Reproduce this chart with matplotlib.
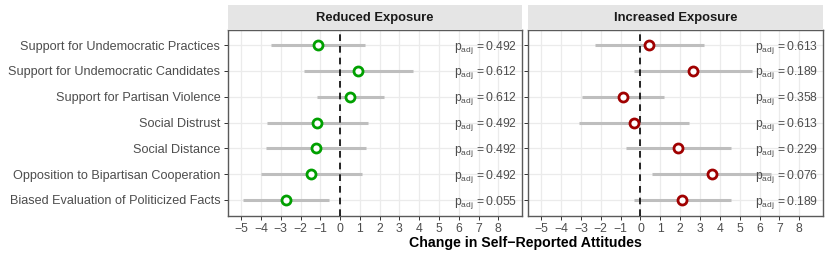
import matplotlib
matplotlib.use("Agg")
import matplotlib.pyplot as plt

plt.rcParams['font.family'] = ['Liberation Sans', 'DejaVu Sans']
plt.rcParams['mathtext.fontset'] = 'custom'
plt.rcParams['mathtext.rm'] = 'Liberation Sans'
plt.rcParams['mathtext.it'] = 'Liberation Sans'

outcomes = ["Support for Undemocratic Practices",
            "Support for Undemocratic Candidates",
            "Support for Partisan Violence",
            "Social Distrust",
            "Social Distance",
            "Opposition to Bipartisan Cooperation",
            "Biased Evaluation of Politicized Facts"]

reduced_est = [-1.11, 0.93, 0.52, -1.15, -1.21, -1.46, -2.76]
reduced_lo = [-3.48, -1.82, -1.15, -3.69, -3.74, -4.01, -4.93]
reduced_hi = [1.26, 3.67, 2.22, 1.40, 1.33, 1.09, -0.54]
reduced_p = ["0.492", "0.612", "0.612", "0.492", "0.492", "0.492", "0.055"]

increased_est = [0.44, 2.65, -0.89, -0.34, 1.91, 3.58, 2.09]
increased_lo = [-2.31, -0.34, -2.97, -3.09, -0.71, 0.59, -0.34]
increased_hi = [3.22, 5.60, 1.20, 2.46, 4.54, 6.60, 4.54]
increased_p = ["0.613", "0.189", "0.358", "0.613", "0.229", "0.076", "0.189"]

xticks = list(range(-5, 9))

panels = [
    ("Reduced Exposure", reduced_est, reduced_lo, reduced_hi, reduced_p, "#00A000"),
    ("Increased Exposure", increased_est, increased_lo, increased_hi, increased_p, "#A00000"),
]

fig = plt.figure(figsize=(8.3, 2.58), dpi=100)
W, H = 830, 258
boxes = [(228, 522), (528, 823)]
top_px, bot_px = 29.5, 215.5
strip_top = 5

ypos = list(range(1, len(outcomes) + 1))
tick_col = "#4D4D4D"
border = "#5A5A5A"

for i, (title, est, lo, hi, pv, col) in enumerate(panels):
    x0, x1 = boxes[i]
    ax = fig.add_axes([x0 / W, 1 - bot_px / H, (x1 - x0) / W, (bot_px - top_px) / H])
    ax.set_xlim(-5.67, 9.2)
    ax.set_ylim(len(outcomes) + 0.6, 0.4)
    ax.set_xticks(xticks)
    ax.set_xticklabels([str(t).replace("-", "\u2212") for t in xticks])
    ax.set_yticks(ypos)
    if i == 0:
        ax.set_yticklabels(outcomes)
    else:
        ax.set_yticklabels([])
    ax.grid(True, color="#EBEBEB", linewidth=0.9)
    ax.set_axisbelow(True)
    for s in ax.spines.values():
        s.set_color(border)
        s.set_linewidth(1.0)
    ax.tick_params(axis="both", colors="#333333", labelcolor=tick_col,
                   labelsize=8.8, length=3, width=0.7, pad=2.5)
    ax.tick_params(axis="y", labelsize=9.1, pad=2.5)

    ax.hlines(ypos, lo, hi, color="#BEBEBE", linewidth=2.2, zorder=2)
    ax.axvline(0, color="black", linestyle=(0, (4, 3)), linewidth=1.2, zorder=3)
    ax.plot(est, ypos, "o", markersize=6.5, markerfacecolor="white",
            markeredgecolor=col, markeredgewidth=2, zorder=4)
    for y, p in zip(ypos, pv):
        ax.text(8.95, y + 0.08, r"$\mathregular{p_{adj}\,=" + p + "}$", ha="right",
                va="center", fontsize=8.7, color=tick_col, zorder=5)

    # facet strip
    sax = fig.add_axes([x0 / W, 1 - top_px / H, (x1 - x0) / W, (top_px - strip_top) / H])
    sax.set_xticks([])
    sax.set_yticks([])
    sax.set_facecolor("#E5E5E5")
    for s in sax.spines.values():
        s.set_visible(False)
    sax.text(0.5, 0.45, title, ha="center", va="center", fontsize=9.4,
             fontweight="bold", color="#1A1A1A", transform=sax.transAxes)

fig.text(525 / W, 1 - 247 / H, "Change in Self\u2212Reported Attitudes", ha="center",
         va="baseline", fontsize=10.2, fontweight="bold")

fig.savefig("out.png", dpi=100)
